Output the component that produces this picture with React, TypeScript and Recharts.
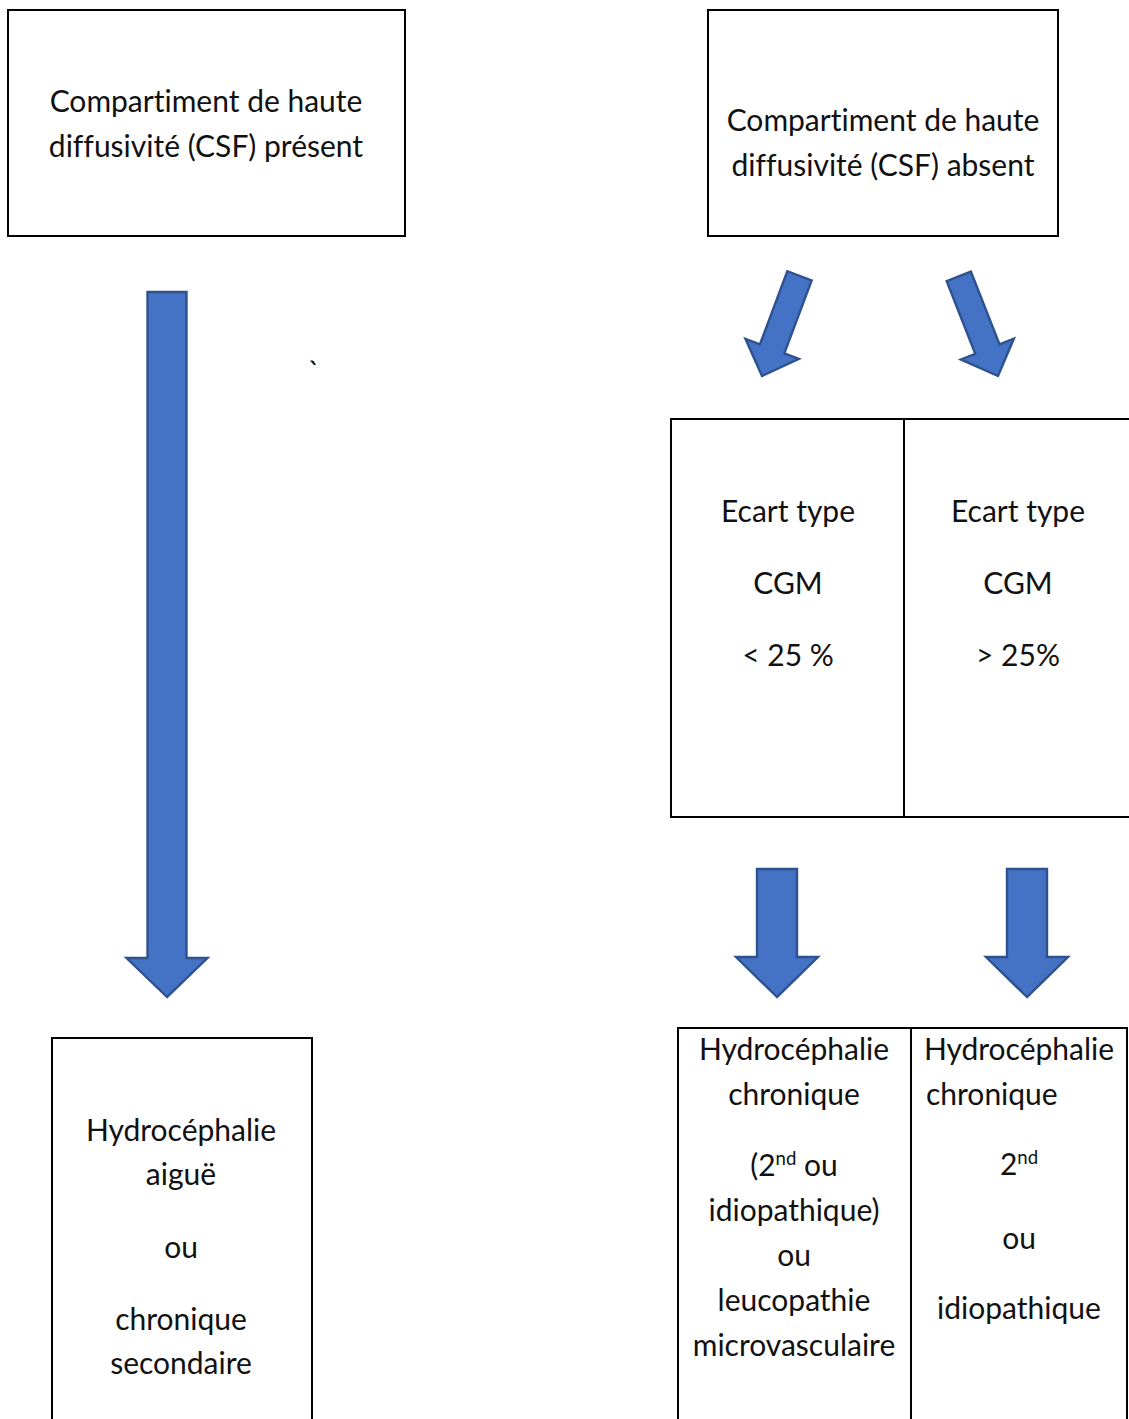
import React from "react";
import { ScatterChart, Scatter, XAxis, YAxis, ReferenceArea } from "recharts";

const W = 1129;
const H = 1419;

// ---- Node texts ----
const presentLines = ["Compartiment de haute", "diffusivité (CSF) présent"];
const absentLines = ["Compartiment de haute", "diffusivité (CSF) absent"];
const lowSdLines = ["Ecart type", "CGM", "< 25 %"];
const highSdLines = ["Ecart type", "CGM", "> 25%"];
const acuteLines = ["Hydrocéphalie", "aiguë", "ou", "chronique", "secondaire"];
const chronicMixedLines = ["Hydrocéphalie", "chronique", "(2{nd} ou", "idiopathique)", "ou", "leucopathie", "microvasculaire"];
const chronicLines = ["Hydrocéphalie", "chronique", "2{nd}", "ou", "idiopathique"];
const strayMark = ["`"];

// ---- Layout (diagram coordinates) ----
const boxes = [
  { x1: 8, x2: 405, y1: 10, y2: 236 },
  { x1: 708, x2: 1058, y1: 10, y2: 236 },
  { x1: 671, x2: 904, y1: 419, y2: 817 },
  { x1: 904, x2: 1134, y1: 419, y2: 817 },
  { x1: 52, x2: 312, y1: 1038, y2: 1430 },
  { x1: 678, x2: 911, y1: 1028, y2: 1430 },
  { x1: 911, x2: 1127, y1: 1028, y2: 1430 },
];

type Block = { lines: string[]; x: number; baselines: number[]; anchors?: string[]; xs?: number[] };
const blocks: Block[] = [
  { lines: presentLines, x: 206, baselines: [112, 157] },
  { lines: absentLines, x: 883, baselines: [131, 176] },
  { lines: lowSdLines, x: 788, baselines: [522, 594, 666] },
  { lines: highSdLines, x: 1018, baselines: [522, 594, 666] },
  { lines: acuteLines, x: 181, baselines: [1141, 1185, 1258, 1330, 1374] },
  { lines: chronicMixedLines, x: 794, baselines: [1060, 1105, 1176, 1221, 1266, 1311, 1356] },
  {
    lines: chronicLines,
    x: 1019,
    baselines: [1060, 1105, 1175, 1249, 1319],
    anchors: ["middle", "start", "middle", "middle", "middle"],
    xs: [1019, 926, 1019, 1019, 1019],
  },
  { lines: strayMark, x: 314, baselines: [383] },
];

const labelData = blocks.flatMap((b) =>
  b.lines.map((t, i) => ({
    x: b.xs ? b.xs[i] : b.x,
    y: b.baselines[i],
    text: t,
    anchor: b.anchors ? b.anchors[i] : "middle",
  }))
);

// arrows: tip position, total length, shaft width, head width, head length, angle
const arrowData = [
  { x: 167, y: 997, len: 705, shaft: 39, head: 81, headLen: 39, angle: 0 },
  { x: 762, y: 376, len: 107, shaft: 26, head: 57, headLen: 29, angle: 20.5 },
  { x: 998, y: 376, len: 107, shaft: 26, head: 57, headLen: 29, angle: -21.5 },
  { x: 777, y: 997, len: 128, shaft: 40, head: 82, headLen: 40, angle: 0 },
  { x: 1027, y: 997, len: 128, shaft: 40, head: 82, headLen: 40, angle: 0 },
];

const FONT = "Lato, 'Open Sans', sans-serif";
const FONT_SIZE = 30;

const renderLabel = (props: any) => {
  const { cx, cy, payload } = props;
  if (cx == null || cy == null) return <g />;
  const parts = String(payload.text).split(/\{(.*?)\}/);
  return (
    <text
      x={cx}
      y={cy}
      textAnchor={payload.anchor}
      fontFamily={FONT}
      fontSize={FONT_SIZE}
      fill="#111"
      style={{ fontVariantLigatures: "none" }}
    >
      {parts.map((p: string, i: number) =>
        i % 2 === 1 ? (
          <tspan key={i} fontSize={FONT_SIZE * 0.62} baselineShift="super">
            {p}
          </tspan>
        ) : (
          <tspan key={i}>{p}</tspan>
        )
      )}
    </text>
  );
};

const renderArrow = (props: any) => {
  const { cx, cy, payload } = props;
  if (cx == null || cy == null) return <g />;
  const { len, shaft, head, headLen, angle } = payload;
  const s = shaft / 2;
  const h = head / 2;
  const pts = [
    [0, 0],
    [-h, -headLen],
    [-s, -headLen],
    [-s, -len],
    [s, -len],
    [s, -headLen],
    [h, -headLen],
  ]
    .map((p) => p.join(","))
    .join(" ");
  return (
    <g transform={`translate(${cx},${cy}) rotate(${angle})`}>
      <polygon points={pts} fill="#4472C4" stroke="#2F528F" strokeWidth={2.4} strokeLinejoin="miter" />
    </g>
  );
};

export default function App() {
  return (
    <div style={{ position: "absolute", left: 0, top: 0, width: W, height: H, background: "#fff", overflow: "hidden" }}>
      <ScatterChart width={W} height={H} margin={{ top: 0, right: 0, bottom: 0, left: 0 }}>
        <XAxis type="number" dataKey="x" domain={[0, W]} hide allowDataOverflow />
        <YAxis type="number" dataKey="y" domain={[0, H]} reversed hide allowDataOverflow />
        {boxes.map((b, i) => (
          <ReferenceArea
            key={i}
            x1={b.x1}
            x2={b.x2}
            y1={b.y1}
            y2={b.y2}
            stroke="#000"
            strokeWidth={2}
            fill="none"
            fillOpacity={0}
            ifOverflow="visible"
          />
        ))}
        <Scatter data={arrowData} shape={renderArrow} isAnimationActive={false} />
        <Scatter data={labelData} shape={renderLabel} isAnimationActive={false} />
      </ScatterChart>
    </div>
  );
}
